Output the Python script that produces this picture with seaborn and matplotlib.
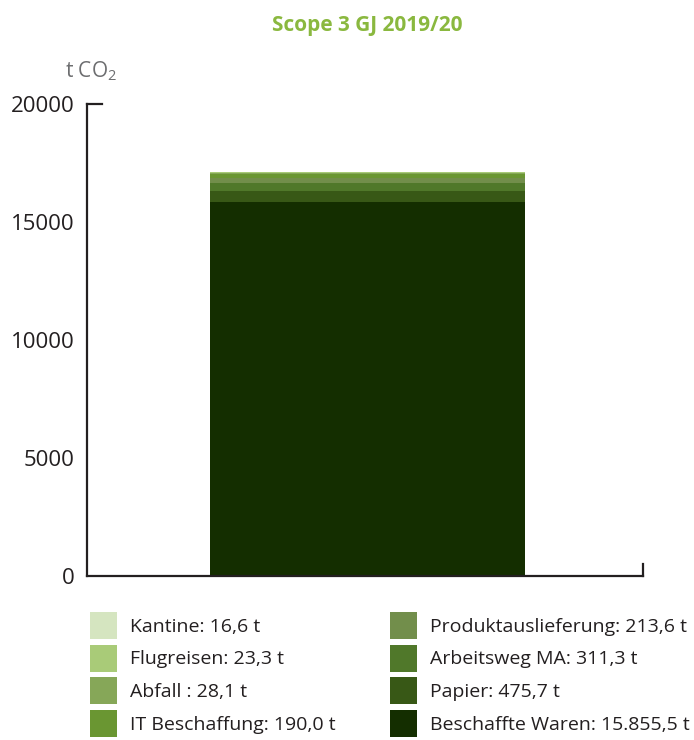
import matplotlib
matplotlib.use("Agg")
import matplotlib.pyplot as plt
import pandas as pd
import seaborn as sns
from matplotlib.patches import Patch

# Data (t CO2, Scope 3, GJ 2019/20), bottom of the stack first.
categories = ['Beschaffte Waren', 'Papier', 'Arbeitsweg MA', 'Produktauslieferung',
              'IT Beschaffung', 'Abfall', 'Flugreisen', 'Kantine']
values = [15855.5, 475.7, 311.3, 213.6, 190.0, 28.1, 23.3, 16.6]
labels = ['Beschaffte Waren: 15.855,5 t', 'Papier: 475,7 t', 'Arbeitsweg MA: 311,3 t',
          'Produktauslieferung: 213,6 t', 'IT Beschaffung: 190,0 t', 'Abfall : 28,1 t',
          'Flugreisen: 23,3 t', 'Kantine: 16,6 t']
colors = ['#142e00', '#385816', '#50782a', '#728e4b',
          '#6a9632', '#86a758', '#a9cb78', '#d5e5c0']

df = pd.DataFrame({'category': categories, 'value': values, 'color': colors, 'label': labels})
df['top'] = df['value'].cumsum()
df['group'] = 'GJ 2019/20'

sns.set_style('white')
plt.rcParams['font.family'] = ['Open Sans', 'DejaVu Sans']
plt.rcParams['mathtext.default'] = 'regular'

fig = plt.figure(figsize=(6.94, 7.4), dpi=100)
ax = fig.add_axes([87 / 694, 1 - 576 / 740, (643 - 87) / 694, 472 / 740])

# Stacked bar: draw cumulative totals from the tallest down.
for _, row in df.iloc[::-1].iterrows():
    sns.barplot(x=[row['group']], y=[row['top']], color=row['color'], width=0.567,
                linewidth=0, saturation=1, ax=ax)

ax.set_xlim(-0.505, 0.495)
ax.set_ylim(0, 20000)
ax.set_yticks([0, 5000, 10000, 15000, 20000])
ax.set_xticks([])
ax.set_xlabel('')
ax.set_ylabel('')
ax.tick_params(axis='y', length=0, pad=9, labelsize=16, colors='#231f20')

for s in ['top', 'right']:
    ax.spines[s].set_visible(False)
for s in ['left', 'bottom']:
    ax.spines[s].set_color('#231f20')
    ax.spines[s].set_linewidth(1.6)

# small caps at axis ends
ax.plot([0, 15 / 556], [20000, 20000], transform=ax.get_yaxis_transform(),
        color='#231f20', lw=1.6, clip_on=False, solid_capstyle='projecting')
ax.plot([1, 1], [0, 12 / 472], transform=ax.transAxes,
        color='#231f20', lw=1.6, clip_on=False, solid_capstyle='projecting')

fig.text(367 / 694, 1 - 25 / 740, 'Scope 3 GJ 2019/20', ha='center', va='center',
         fontsize=15, fontweight='bold', color='#8ab83f')
fig.text(65 / 694, 1 - 71 / 740, 't CO$_2$', ha='left', va='center',
         fontsize=15, color='#6d6e70')

# Legend in two columns
left = df.iloc[[7, 6, 5, 4]]
right = df.iloc[[3, 2, 1, 0]]
for part, x0 in [(left, 90), (right, 390)]:
    handles = [Patch(facecolor=c, edgecolor='none') for c in part['color']]
    leg = fig.legend(handles, list(part['label']), loc='upper left',
                     bbox_to_anchor=(x0 / 694, 1 - 612 / 740), frameon=False,
                     fontsize=14, handlelength=1.39, handleheight=1.76,
                     handletextpad=0.65, labelspacing=0.29, borderpad=0,
                     borderaxespad=0)
    for t in leg.get_texts():
        t.set_color('#231f20')

fig.savefig('out.png', dpi=100)
